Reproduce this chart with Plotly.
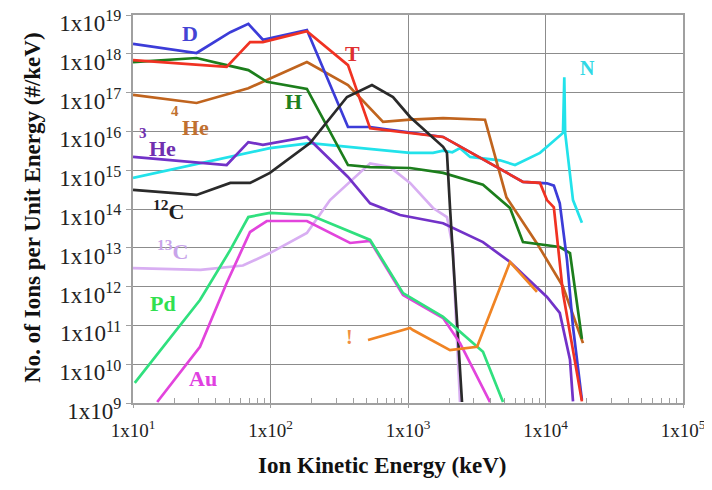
import plotly.graph_objects as go

# ---- data (energy in keV, ions per keV) ----
D_x = [10, 29, 51, 69, 88, 184, 366, 530, 1800, 6860, 10250, 11500, 12700, 14330, 15850, 18400]
D_y = [1.8e18, 1.05e18, 3.6e18, 5.9e18, 2.3e18, 4.1e18, 1.3e16, 1.3e16, 7.2e15, 5.0e14, 4.6e14, 4.0e14, 1.4e14, 4.9e12, 9.1e10, 1.2e9]

T_x = [10, 48, 71, 88, 184, 366, 530, 1035, 1800, 6860, 9120, 10250, 11500, 13400, 15850, 18400]
T_y = [6.9e17, 4.6e17, 2.0e18, 2.0e18, 3.8e18, 5.1e17, 1.2e16, 9.0e15, 7.2e15, 5.0e14, 4.7e14, 1.7e14, 1.1e14, 6.8e11, 2.3e10, 1.1e9]

H_x = [10, 29, 48, 69, 94, 184, 366, 530, 1035, 1800, 3510, 5520, 6860, 12700, 15070, 18400]
H_y = [6.1e17, 7.8e17, 5.1e17, 3.8e17, 1.9e17, 1.24e17, 1.36e15, 1.2e15, 1.14e15, 8.5e14, 4.2e14, 1.06e14, 1.4e13, 1.05e13, 7.3e12, 4.5e10]

He4_x = [10, 29, 69, 184, 366, 658, 1035, 1800, 3630, 4430, 5200, 8670, 13400, 18730]
He4_y = [8.7e16, 5.4e16, 1.3e17, 6.1e17, 1.57e17, 1.75e16, 2.0e16, 2.2e16, 2.0e16, 1.5e15, 2.0e14, 1.3e13, 1.0e12, 3.5e10]

He3_x = [10, 48, 69, 88, 184, 366, 530, 875, 1800, 3510, 5520, 10250, 12700, 15070, 15850]
He3_y = [2.2e15, 1.36e15, 5.3e15, 4.5e15, 7.2e15, 6.7e14, 1.4e14, 7.0e13, 4.3e13, 1.4e13, 4.3e12, 5.4e11, 2.1e11, 1.3e10, 1.1e9]

N_x = [10, 51, 99, 194, 1035, 1520, 1800, 2100, 2390, 2830, 4670, 6000, 9120, 13400, 13700, 13900, 15850, 18400]
N_y = [6.3e14, 2.2e15, 3.7e15, 5.0e15, 2.8e15, 2.8e15, 3.2e15, 2.9e15, 3.7e15, 2.2e15, 1.8e15, 1.36e15, 2.8e15, 9.1e15, 2.5e17, 9.1e15, 1.7e14, 4.4e13]

C12_x = [10, 29, 51, 71, 99, 194, 360, 547, 778, 1035, 1800, 1920, 2020, 2470]
C12_y = [3.1e14, 2.3e14, 4.7e14, 4.7e14, 8.5e14, 5.0e15, 7.7e16, 1.57e17, 7.7e16, 2.35e16, 4.0e15, 2.8e15, 1.1e14, 1.06e9]

C13_x = [10, 31, 63, 99, 184, 271, 530, 740, 1035, 1520, 1920, 2120, 2200, 2390]
C13_y = [3.0e12, 2.7e12, 3.5e12, 7.3e12, 2.4e13, 1.7e14, 1.5e15, 1.2e15, 4.7e14, 1.06e14, 6.2e13, 1.05e13, 4.5e11, 1.06e9]

Pd_x = [10.3, 30.7, 51, 69, 99, 194, 530, 920, 1800, 3510, 4910]
Pd_y = [3.3e9, 4.5e11, 8.8e12, 6.2e13, 7.9e13, 7.0e13, 1.6e13, 6.8e11, 1.65e11, 2.1e10, 1.06e9]

Au_x = [15, 30.7, 48, 71, 94, 184, 379, 530, 920, 1800, 2390, 3950]
Au_y = [1.06e9, 2.8e10, 1.24e12, 2.55e13, 4.9e13, 4.9e13, 1.33e13, 1.5e13, 6.1e11, 1.55e11, 3.5e10, 1.06e9]

U_x = [512, 1035, 1087, 2020, 3180, 5520, 8670]
U_y = [4.2e10, 8.6e10, 7.6e10, 2.3e10, 2.8e10, 4.3e12, 7.3e11]

x_tick_exp = [1, 2, 3, 4, 5]
y_tick_exp = [9, 10, 11, 12, 13, 14, 15, 16, 17, 18, 19]
minor_mult = [2, 3, 4, 5, 6, 7, 8, 9]

series = [
    ("13C", C13_x, C13_y, "#d8aef2"),
    ("N", N_x, N_y, "#22e2ea"),
    ("3He", He3_x, He3_y, "#7232c8"),
    ("4He", He4_x, He4_y, "#c0641e"),
    ("H", H_x, H_y, "#1c7e1c"),
    ("D", D_x, D_y, "#3c3cd8"),
    ("T", T_x, T_y, "#f03222"),
    ("12C", C12_x, C12_y, "#2a2a2a"),
    ("Au", Au_x, Au_y, "#e244dc"),
    ("Pd", Pd_x, Pd_y, "#30e07e"),
    ("unknown", U_x, U_y, "#f08424"),
]

fig = go.Figure()
for name, xs, ys, col in series:
    fig.add_trace(go.Scatter(x=xs, y=ys, mode="lines", name=name,
                             line=dict(color=col, width=2.7), showlegend=False))

SERIF = "Liberation Serif"
labels = [
    ("D", 1.415, 18.536, "#4444d4", 22),
    ("T", 2.593, 17.995, "#e03030", 22),
    ("H", 2.164, 16.758, "#208020", 22),
    ("N", 4.309, 17.634, "#30d8e4", 20),
    ("4", 1.305, 16.526, "#c07030", 15),
    ("He", 1.451, 16.088, "#c07030", 22),
    ("3", 1.073, 15.959, "#7030b0", 15),
    ("He", 1.218, 15.572, "#7030b0", 22),
    ("<sup>12</sup>C", 1.255, 13.974, "#202020", 22),
    ("<sup>13</sup>C", 1.284, 12.943, "#c8a4ea", 22),
    ("Pd", 1.218, 11.577, "#30e050", 22),
    ("Au", 1.509, 9.644, "#e040e0", 22),
    ("!", 2.578, 10.701, "#f09040", 20),
]
for txt, lx, ly, col, sz in labels:
    fig.add_annotation(x=lx, y=ly, xref="x", yref="y", text="<b>%s</b>" % txt,
                       showarrow=False, font=dict(family=SERIF, size=sz, color=col))

# axis titles
fig.add_annotation(x=0.453, y=-0.16, xref="paper", yref="paper",
                   xanchor="center", yanchor="middle",
                   text="<b>Ion Kinetic Energy (keV)</b>", showarrow=False,
                   font=dict(family=SERIF, size=23, color="#111"))
fig.add_annotation(x=-0.182, y=0.503, xref="paper", yref="paper", textangle=-90,
                   xanchor="center", yanchor="middle",
                   text="<b>No. of Ions per Unit Energy (#/keV)</b>", showarrow=False,
                   font=dict(family=SERIF, size=23, color="#111"))

fig.update_xaxes(type="log", range=[1, 5], automargin=False, ticklabeloverflow="allow",
                 tickvals=[10 ** e for e in x_tick_exp],
                 ticktext=["1x10<sup>%d</sup>" % e for e in x_tick_exp],
                 tickfont=dict(family=SERIF, size=19, color="#222"),
                 ticklabelstandoff=6,
                 showgrid=True, gridcolor="#8c8c8c", gridwidth=1,
                 showline=True, linecolor="#a0a0a0", linewidth=2, mirror=True,
                 ticks="outside", ticklen=3, tickcolor="#a0a0a0", zeroline=False,
                 minor=dict(tickmode="array",
                            tickvals=[m * 10 ** e for e in x_tick_exp[:-1] for m in minor_mult],
                            ticks="inside", ticklen=5, tickcolor="#a0a0a0", showgrid=False))
fig.update_yaxes(type="log", range=[9, 19], automargin=False, ticklabeloverflow="allow",
                 tickvals=[10 ** e for e in y_tick_exp],
                 ticktext=["1x10<sup>%d</sup>" % e for e in y_tick_exp],
                 tickfont=dict(family=SERIF, size=23, color="#222"),
                 ticklabelshift=8,
                 showgrid=True, gridcolor="#8c8c8c", gridwidth=1,
                 showline=True, linecolor="#a0a0a0", linewidth=2, mirror=True,
                 ticks="outside", ticklen=5, tickcolor="#a0a0a0", zeroline=False)

# page body has an 8px margin: size/margins chosen so the plot area lands at
# x 133..683, y 15..403 in the 712x490 window
fig.update_layout(width=704, height=482, margin=dict(l=125, r=29, t=7, b=87),
                  paper_bgcolor="white", plot_bgcolor="white")
fig.write_html("out.html")
